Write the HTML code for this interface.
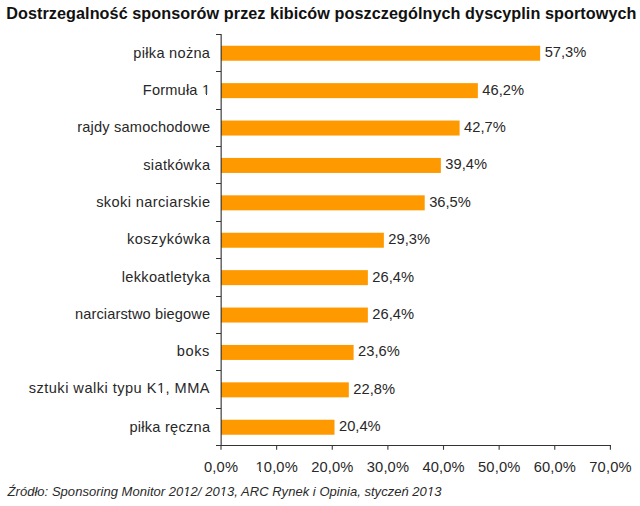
<!DOCTYPE html>
<html><head><meta charset="utf-8"><style>
html,body{margin:0;padding:0;background:#fff;}
body{width:640px;height:506px;position:relative;overflow:hidden;font-family:"Liberation Sans",sans-serif;color:#282828;}
svg{position:absolute;left:0;top:0;}
div{position:absolute;white-space:nowrap;line-height:18px;}
.title{left:6.2px;top:3.79px;font-weight:bold;font-size:16.2px;letter-spacing:0.07px;color:#111;}
.lab{font-size:14.6px;}
.val{font-size:14.7px;}
.tick{width:80px;text-align:center;font-size:14.7px;letter-spacing:0.15px;}
.src{left:7.6px;top:483.10px;font-style:italic;font-size:13px;letter-spacing:0.03px;color:#2a2a2a;}
.o1,.o1i{position:relative;}
.o1::before,.o1::after,.o1i::before,.o1i::after{content:"";position:absolute;background:#fff;bottom:0.2em;height:0.1em;}
.o1::before{left:0.0em;width:0.278em;}
.o1::after{left:0.372em;width:0.21em;}
.o1i::before{left:-0.02em;width:0.252em;}
.o1i::after{left:0.326em;width:0.19em;}
</style></head><body>
<svg width="640" height="506" viewBox="0 0 640 506">
<rect x="221.0" y="45.74" width="319.15" height="15.00" fill="#FF9900"/>
<rect x="221.0" y="83.14" width="256.85" height="15.00" fill="#FF9900"/>
<rect x="221.0" y="120.54" width="238.60" height="15.00" fill="#FF9900"/>
<rect x="221.0" y="157.94" width="219.85" height="15.00" fill="#FF9900"/>
<rect x="221.0" y="195.34" width="203.70" height="15.00" fill="#FF9900"/>
<rect x="221.0" y="232.74" width="162.86" height="15.00" fill="#FF9900"/>
<rect x="221.0" y="270.14" width="146.86" height="15.00" fill="#FF9900"/>
<rect x="221.0" y="307.54" width="146.86" height="15.00" fill="#FF9900"/>
<rect x="221.0" y="344.94" width="132.60" height="15.00" fill="#FF9900"/>
<rect x="221.0" y="382.34" width="127.80" height="15.00" fill="#FF9900"/>
<rect x="221.0" y="419.74" width="113.50" height="15.00" fill="#FF9900"/>
<line x1="221.15" y1="34" x2="221.15" y2="446" stroke="#2e2e2e" stroke-width="1.1"/>
<line x1="216" y1="445.5" x2="611" y2="445.5" stroke="#333333" stroke-width="1"/>
<line x1="216" y1="34.5" x2="221" y2="34.5" stroke="#333333" stroke-width="1"/>
<line x1="216" y1="71.5" x2="221" y2="71.5" stroke="#333333" stroke-width="1"/>
<line x1="216" y1="109.5" x2="221" y2="109.5" stroke="#333333" stroke-width="1"/>
<line x1="216" y1="146.5" x2="221" y2="146.5" stroke="#333333" stroke-width="1"/>
<line x1="216" y1="183.5" x2="221" y2="183.5" stroke="#333333" stroke-width="1"/>
<line x1="216" y1="221.5" x2="221" y2="221.5" stroke="#333333" stroke-width="1"/>
<line x1="216" y1="258.5" x2="221" y2="258.5" stroke="#333333" stroke-width="1"/>
<line x1="216" y1="296.5" x2="221" y2="296.5" stroke="#333333" stroke-width="1"/>
<line x1="216" y1="333.5" x2="221" y2="333.5" stroke="#333333" stroke-width="1"/>
<line x1="216" y1="370.5" x2="221" y2="370.5" stroke="#333333" stroke-width="1"/>
<line x1="216" y1="408.5" x2="221" y2="408.5" stroke="#333333" stroke-width="1"/>
<line x1="216" y1="445.5" x2="221" y2="445.5" stroke="#333333" stroke-width="1"/>
<line x1="221.00" y1="445.5" x2="221.00" y2="449.8" stroke="#3a3a3a" stroke-width="1.1"/>
<line x1="276.63" y1="445.5" x2="276.63" y2="449.8" stroke="#3a3a3a" stroke-width="1.1"/>
<line x1="332.26" y1="445.5" x2="332.26" y2="449.8" stroke="#3a3a3a" stroke-width="1.1"/>
<line x1="387.89" y1="445.5" x2="387.89" y2="449.8" stroke="#3a3a3a" stroke-width="1.1"/>
<line x1="443.51" y1="445.5" x2="443.51" y2="449.8" stroke="#3a3a3a" stroke-width="1.1"/>
<line x1="499.14" y1="445.5" x2="499.14" y2="449.8" stroke="#3a3a3a" stroke-width="1.1"/>
<line x1="554.77" y1="445.5" x2="554.77" y2="449.8" stroke="#3a3a3a" stroke-width="1.1"/>
<line x1="610.40" y1="445.5" x2="610.40" y2="449.8" stroke="#3a3a3a" stroke-width="1.1"/>
</svg>
<div class="title">Dostrzegalność sponsorów przez kibiców poszczególnych dyscyplin sportowych</div>
<div class="lab" style="top:43.88px;right:429.72px;letter-spacing:0.280px">piłka nożna</div>
<div class="lab" style="top:81.18px;right:429.81px;letter-spacing:0.190px">Formuła <span class="o1">1</span></div>
<div class="lab" style="top:118.28px;right:429.81px;letter-spacing:0.190px">rajdy samochodowe</div>
<div class="lab" style="top:155.68px;right:429.66px;letter-spacing:0.340px">siatkówka</div>
<div class="lab" style="top:193.08px;right:429.62px;letter-spacing:0.375px">skoki narciarskie</div>
<div class="lab" style="top:230.48px;right:429.51px;letter-spacing:0.490px">koszykówka</div>
<div class="lab" style="top:267.88px;right:429.67px;letter-spacing:0.333px">lekkoatletyka</div>
<div class="lab" style="top:305.28px;right:429.89px;letter-spacing:0.110px">narciarstwo biegowe</div>
<div class="lab" style="top:341.68px;right:430.00px;letter-spacing:0.600px">boks</div>
<div class="lab" style="top:379.08px;right:430.03px;letter-spacing:0.470px">sztuki walki typu K<span class="o1">1</span>, MMA</div>
<div class="lab" style="top:417.68px;right:429.75px;letter-spacing:0.250px">piłka ręczna</div>
<div class="val" style="top:43.25px;left:544.65px">57,3%</div>
<div class="val" style="top:80.65px;left:482.35px">46,2%</div>
<div class="val" style="top:118.05px;left:464.10px">42,7%</div>
<div class="val" style="top:155.45px;left:445.35px">39,4%</div>
<div class="val" style="top:192.85px;left:429.20px">36,5%</div>
<div class="val" style="top:230.25px;left:388.36px">29,3%</div>
<div class="val" style="top:267.65px;left:372.36px">26,4%</div>
<div class="val" style="top:305.05px;left:372.36px">26,4%</div>
<div class="val" style="top:342.45px;left:358.10px">23,6%</div>
<div class="val" style="top:379.85px;left:353.30px">22,8%</div>
<div class="val" style="top:417.25px;left:339.00px">20,4%</div>
<div class="tick" style="left:181.07px;top:457.91px">0,0%</div>
<div class="tick" style="left:236.70px;top:457.91px"><span class="o1">1</span>0,0%</div>
<div class="tick" style="left:292.33px;top:457.91px">20,0%</div>
<div class="tick" style="left:347.96px;top:457.91px">30,0%</div>
<div class="tick" style="left:403.59px;top:457.91px">40,0%</div>
<div class="tick" style="left:459.22px;top:457.91px">50,0%</div>
<div class="tick" style="left:514.85px;top:457.91px">60,0%</div>
<div class="tick" style="left:570.48px;top:457.91px">70,0%</div>
<div class="src">Źródło: Sponsoring Monitor 20<span class="o1i">1</span>2/ 20<span class="o1i">1</span>3, ARC Rynek i Opinia, styczeń 20<span class="o1i">1</span>3</div>
</body></html>
